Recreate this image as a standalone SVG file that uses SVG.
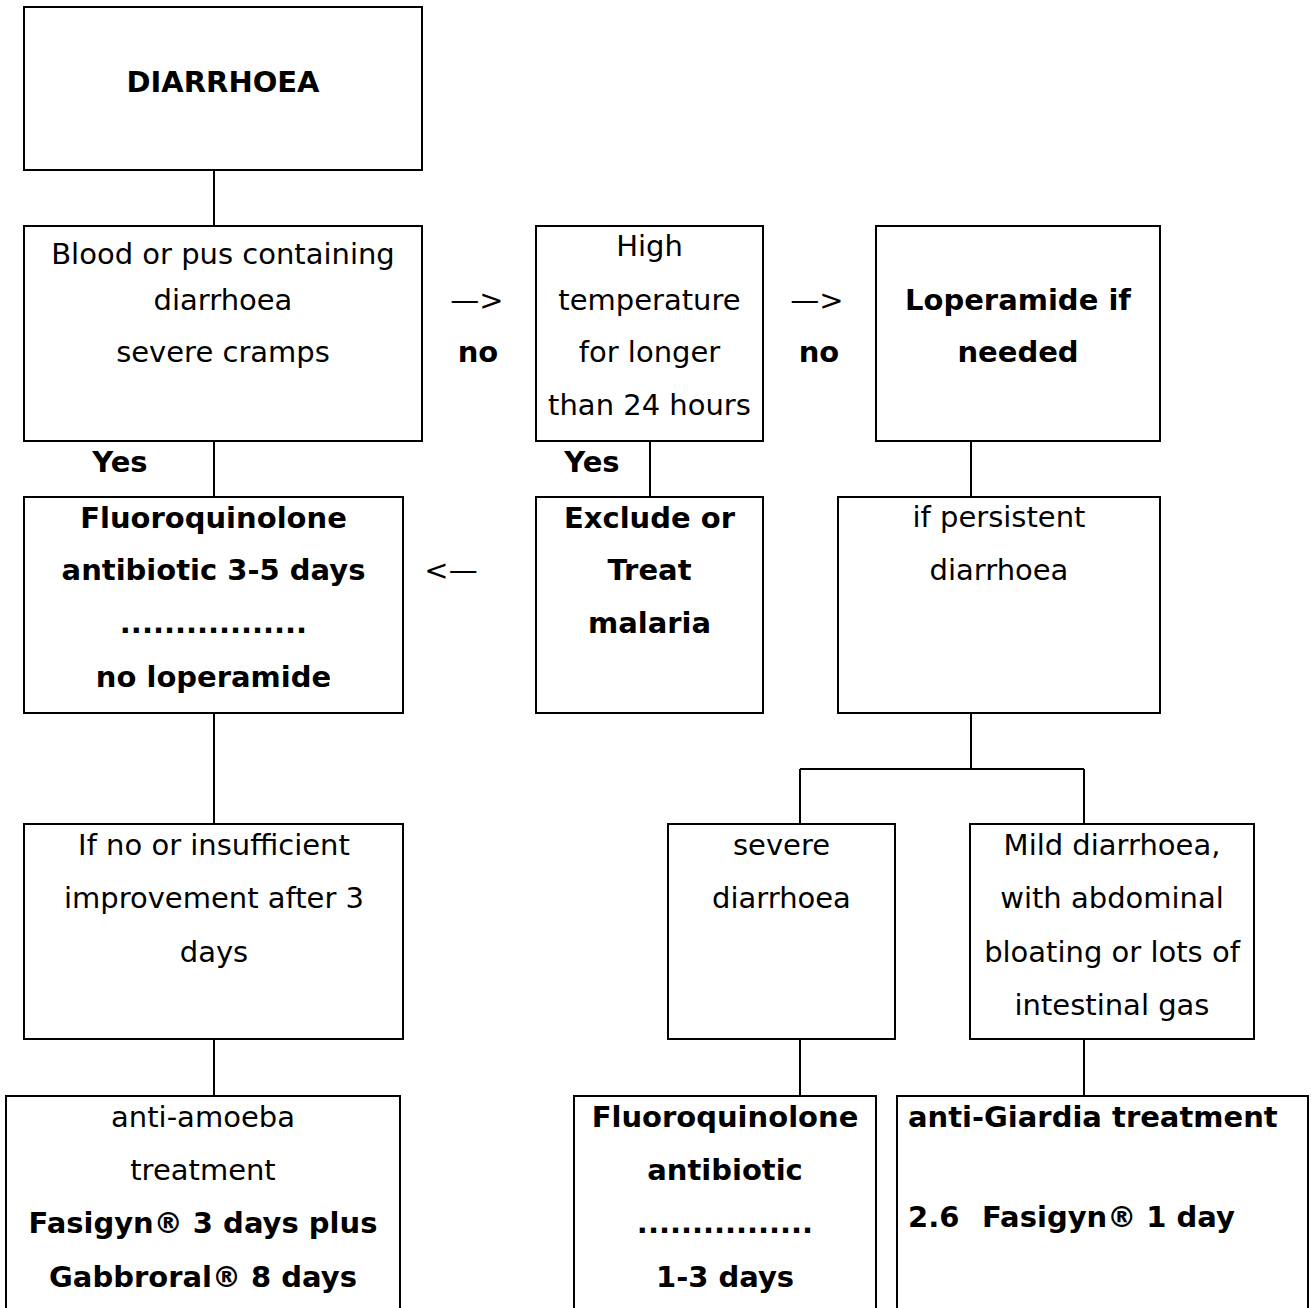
<svg xmlns="http://www.w3.org/2000/svg" width="1311" height="1308" viewBox="0 0 1311 1308">
<style>
.box{fill:none;stroke:#000;stroke-width:2}
.ln{fill:none;stroke:#000;stroke-width:2}
text{font-family:"DejaVu Sans",Verdana,sans-serif;font-size:29px;fill:#000;text-anchor:middle}
.b{font-weight:bold}
.l{text-anchor:start}
</style>
<rect width="1311" height="1308" fill="#fff"/>
<g id="connectors">
<path class="ln" d="M214,170V226M214,441V497M650,441V497M971,441V497M214,713V824M971,713V769M800,769H1084M800,769V824M1084,769V824M214,1039V1096M800,1039V1096M1084,1039V1096"/>
</g>
<g id="labels">
<text x="477" y="310">—&gt;</text>
<text x="478" y="362" class="b">no</text>
<text x="817" y="310">—&gt;</text>
<text x="819" y="362" class="b">no</text>
<text x="120" y="472" class="b">Yes</text>
<text x="592" y="472" class="b">Yes</text>
<text x="451" y="580">&lt;—</text>
</g>
<g id="n-diarrhoea">
<rect class="box" x="24" y="7" width="398" height="163"/>
<text x="223" y="92" class="b">DIARRHOEA</text>
</g>
<g id="n-blood">
<rect class="box" x="24" y="226" width="398" height="215"/>
<text x="223" y="264">Blood or pus containing</text>
<text x="223" y="310">diarrhoea</text>
<text x="223" y="362">severe cramps</text>
</g>
<g id="n-temp">
<rect class="box" x="536" y="226" width="227" height="215"/>
<text x="649.5" y="256">High</text>
<text x="649.5" y="310">temperature</text>
<text x="649.5" y="362">for longer</text>
<text x="649.5" y="415">than 24 hours</text>
</g>
<g id="n-loperamide">
<rect class="box" x="876" y="226" width="284" height="215"/>
<text x="1018" y="310" class="b">Loperamide if</text>
<text x="1018" y="362" class="b">needed</text>
</g>
<g id="n-fluoro1">
<rect class="box" x="24" y="497" width="379" height="216"/>
<text x="213.5" y="528" class="b">Fluoroquinolone</text>
<text x="213.5" y="580" class="b">antibiotic 3-5 days</text>
<text x="213.5" y="633" class="b">.................</text>
<text x="213.5" y="687" class="b">no loperamide</text>
</g>
<g id="n-malaria">
<rect class="box" x="536" y="497" width="227" height="216"/>
<text x="649.5" y="528" class="b">Exclude or</text>
<text x="649.5" y="580" class="b">Treat</text>
<text x="649.5" y="633" class="b">malaria</text>
</g>
<g id="n-persistent">
<rect class="box" x="838" y="497" width="322" height="216"/>
<text x="999" y="527">if persistent</text>
<text x="999" y="580">diarrhoea</text>
</g>
<g id="n-insufficient">
<rect class="box" x="24" y="824" width="379" height="215"/>
<text x="214" y="855">If no or insufficient</text>
<text x="214" y="908">improvement after 3</text>
<text x="214" y="962">days</text>
</g>
<g id="n-severe">
<rect class="box" x="668" y="824" width="227" height="215"/>
<text x="781.5" y="855">severe</text>
<text x="781.5" y="908">diarrhoea</text>
</g>
<g id="n-mild">
<rect class="box" x="970" y="824" width="284" height="215"/>
<text x="1112" y="855">Mild diarrhoea,</text>
<text x="1112" y="908">with abdominal</text>
<text x="1112" y="962">bloating or lots of</text>
<text x="1112" y="1015">intestinal gas</text>
</g>
<g id="n-amoeba">
<rect class="box" x="6" y="1096" width="394" height="240"/>
<text x="203" y="1127">anti-amoeba</text>
<text x="203" y="1180">treatment</text>
<text x="203" y="1233" class="b">Fasigyn® 3 days plus</text>
<text x="203" y="1287" class="b">Gabbroral® 8 days</text>
</g>
<g id="n-fluoro2">
<rect class="box" x="574" y="1096" width="302" height="240"/>
<text x="725" y="1127" class="b">Fluoroquinolone</text>
<text x="725" y="1180" class="b">antibiotic</text>
<text x="725" y="1233" class="b">................</text>
<text x="725" y="1287" class="b">1-3 days</text>
</g>
<g id="n-giardia">
<rect class="box" x="897" y="1096" width="411" height="240"/>
<text x="908" y="1127" class="b l">anti-Giardia treatment</text>
<text x="908" y="1227" class="b l">2.6</text>
<text x="982" y="1227" class="b l">Fasigyn® 1 day</text>
</g>
</svg>
